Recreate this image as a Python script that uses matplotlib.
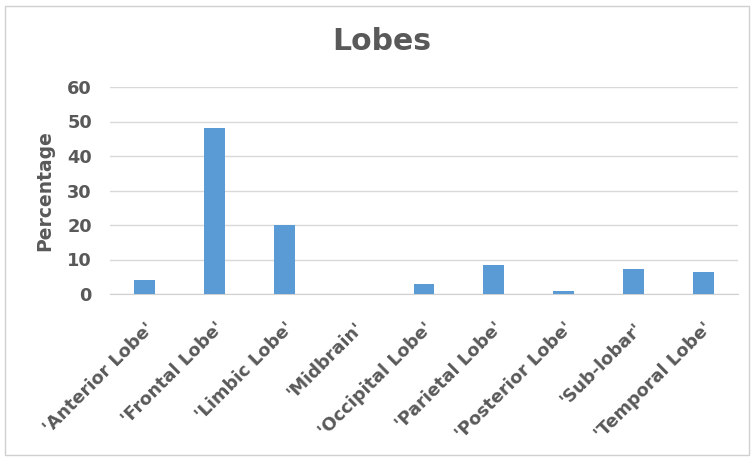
import matplotlib
matplotlib.use("Agg")
import matplotlib.pyplot as plt
from matplotlib.patches import Rectangle

# Share of findings per brain lobe
lobes = ["'Anterior Lobe'", "'Frontal Lobe'", "'Limbic Lobe'", "'Midbrain'",
         "'Occipital Lobe'", "'Parietal Lobe'", "'Posterior Lobe'",
         "'Sub-lobar'", "'Temporal Lobe'"]
percent = [4.1, 48.1, 20.0, 0.0, 2.9, 8.3, 1.0, 7.3, 6.5]
yticks = [0, 10, 20, 30, 40, 50, 60]

plt.rcParams["font.family"] = ["DejaVu Sans"]
grey = "#595959"

W, H = 751, 457
fig = plt.figure(figsize=(W / 100, H / 100), dpi=100)
fig.patches.append(Rectangle((5 / W, 2 / H), 744 / W, 449 / H, transform=fig.transFigure,
                             fill=False, edgecolor="#d0d0d0", linewidth=1))
ax = fig.add_axes([110 / W, 1 - 294 / H, 628 / W, 207 / H])

x = range(len(lobes))
ax.bar(x, percent, width=0.30, color="#5b9bd5", zorder=3)

ax.set_xlim(-0.5, len(lobes) - 0.5)
ax.set_ylim(0, 60)
ax.set_yticks(yticks)
ax.set_xticks(list(x))
ax.set_xticklabels(lobes, rotation=45, ha="right", rotation_mode="anchor",
                   fontsize=12.8, fontweight="bold", color=grey)
for lab in ax.get_yticklabels():
    lab.set_fontsize(12.8)
    lab.set_fontweight("bold")
    lab.set_color(grey)

ax.grid(axis="y", color="#d9d9d9", linewidth=1, zorder=0)
for side in ["top", "right", "left"]:
    ax.spines[side].set_visible(False)
ax.spines["bottom"].set_color("#d0d0d0")
ax.tick_params(length=0)
ax.tick_params(axis="y", pad=13)
ax.tick_params(axis="x", pad=18)

ax.set_ylabel("Percentage", fontsize=13.5, fontweight="bold", color=grey, labelpad=9)
fig.text(382 / W, 1 - 41 / H, "Lobes", ha="center", va="center", fontsize=21.5,
         fontweight="bold", color=grey)

fig.savefig("out.png", dpi=100)
